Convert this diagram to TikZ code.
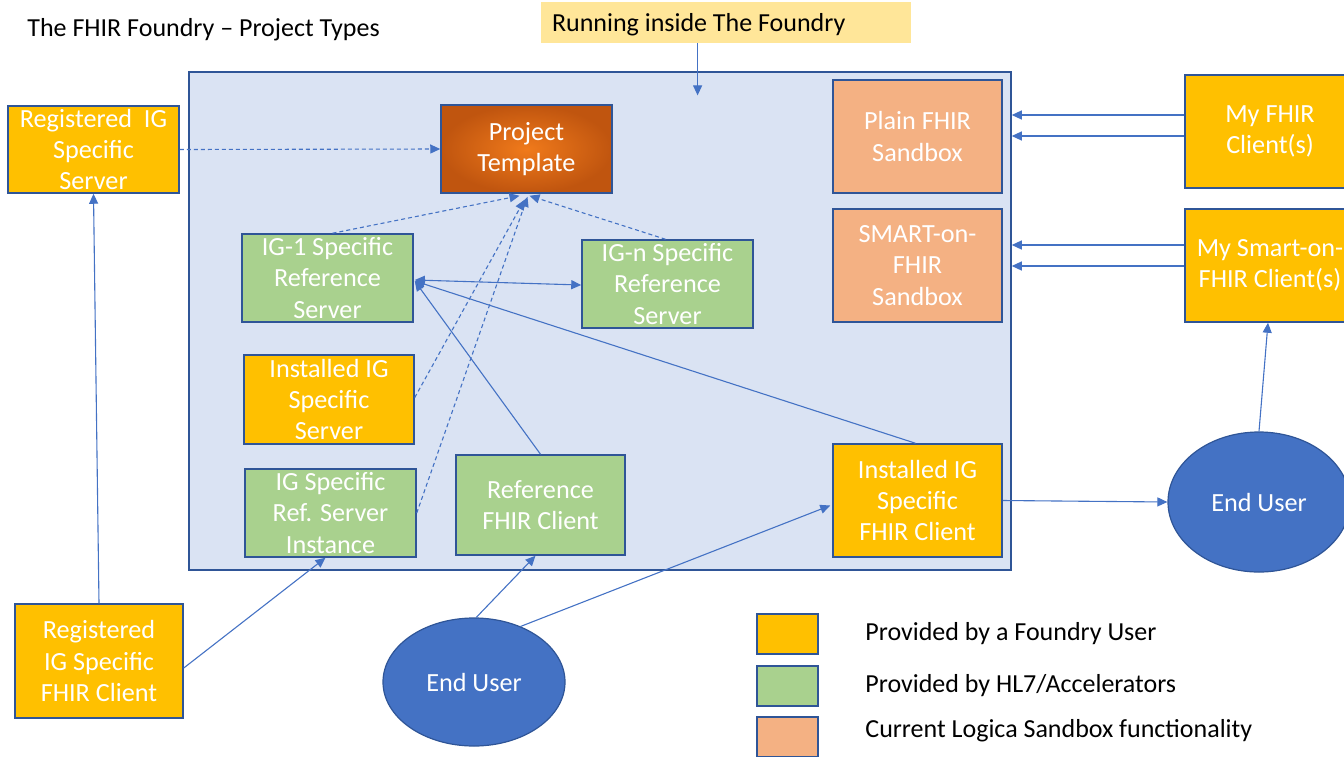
\documentclass[tikz,border=0pt]{standalone}
\usepackage{fontspec}
\setmainfont{Carlito}
\usetikzlibrary{shapes.geometric,arrows.meta,calc}

\definecolor{userorange}{HTML}{FFC000}
\definecolor{hlgreen}{HTML}{A9D18E}
\definecolor{sandsalmon}{HTML}{F4B183}
\definecolor{foundrybg}{HTML}{DAE3F3}
\definecolor{calloutbg}{HTML}{FFE699}
\definecolor{userblue}{HTML}{4472C4}
\definecolor{boxline}{HTML}{2F5597}
\definecolor{linkcol}{HTML}{4472C4}
\definecolor{tplinner}{HTML}{F07A1B}
\definecolor{tplouter}{HTML}{C0550F}

\begin{document}
\begin{tikzpicture}[x=0.5pt,y=-0.5pt,
  sz/.style n args={2}{minimum width=#1*0.5pt, minimum height=#2*0.5pt},
  box/.style={draw=boxline, line width=0.75pt, text=white, align=center,
    inner sep=0pt, font=\fontsize{13.1}{15.6}\selectfont},
  userbox/.style={box, fill=userorange},
  hlbox/.style={box, fill=hlgreen},
  sandbox/.style={box, fill=sandsalmon},
  tplbox/.style={box, inner color=tplinner, outer color=tplouter},
  enduser/.style={ellipse, draw=boxline, line width=0.6pt, fill=userblue,
    text=white, inner sep=0pt, font=\fontsize{13.1}{15.6}\selectfont},
  keybox/.style={draw=boxline, line width=0.75pt, inner sep=0pt, sz={61}{40}},
  plaintext/.style={text=black, inner sep=0pt, font=\fontsize{13}{15.5}\selectfont},
  conn/.style={draw=linkcol, line width=0.55pt, -{Triangle[length=5pt,width=4.5pt]}},
  dconn/.style={conn, dash pattern=on 2pt off 1.5pt},
  biconn/.style={conn, {Triangle[length=5pt,width=4.5pt]}-{Triangle[length=5pt,width=4.5pt]}}
]
\useasboundingbox (0,0) rectangle (1344,756);
\clip (0,0) rectangle (1344,756);

% title and callout
\node[plaintext, anchor=west] (title) at (27,30) {The FHIR Foundry -- Project Types};
\node[fill=calloutbg, sz={370}{41}, inner sep=0pt] (running) at (726,22.5) {};
\node[plaintext, anchor=west] (runningtxt) at ($(running.west)+(11,2)$) {Running inside The Foundry};

% the Foundry container
\node[draw=boxline, line width=0.75pt, fill=foundrybg, sz={822}{498}] (foundry) at (600,321) {};

% boxes inside the Foundry
\node[tplbox, sz={171}{88}] (tpl) at (526.5,149) {Project\\Template};
\node[hlbox, sz={171}{88}] (ig1) at (327.5,278) {IG-1 Specific\\Reference\\Server};
\node[hlbox, sz={171}{88}] (ign) at (667.5,284) {IG-n Specific\\Reference\\Server};
\node[userbox, sz={170}{89}] (instsrv) at (329,399.5) {Installed IG\\Specific\\Server};
\node[hlbox, sz={171}{88}] (refinst) at (330.5,513) {IG Specific\\Ref. Server\\Instance};
\node[hlbox, sz={169}{100}] (refcli) at (540.5,505) {Reference\\FHIR Client};
\node[userbox, sz={169}{113}] (instcli) at (917.5,500.5) {Installed IG\\Specific\\FHIR Client};
\node[sandbox, sz={169}{113}] (plain) at (917.5,136.5) {Plain FHIR\\Sandbox};
\node[sandbox, sz={169}{113}] (smart) at (917.5,265.5) {SMART-on-\\FHIR\\Sandbox};

% boxes outside the Foundry
\node[userbox, sz={171}{87}] (regsrv) at (93.5,149.5) {Registered\ \ IG\\Specific\\Server};
\node[userbox, sz={168}{114}] (regcli) at (99,661) {Registered\\IG Specific\\FHIR Client};
\node[userbox, sz={170}{113}] (myfhir) at (1270,131.5) {My FHIR\\Client(s)};
\node[userbox, sz={170}{113}] (mysmart) at (1270,265.5) {My Smart-on-\\FHIR Client(s)};
\node[enduser, sz={182}{128}] (eu1) at (474,682) {End User};
\node[enduser, sz={182}{140}] (eu2) at (1259,502) {End User};

% legend
\node[keybox, fill=userorange] (k1) at (787.5,634) {};
\node[keybox, fill=hlgreen] (k2) at (787.5,686) {};
\node[keybox, fill=sandsalmon] (k3) at (787.5,737) {};
\node[plaintext, anchor=west] (k1t) at (865,634) {Provided by a Foundry User};
\node[plaintext, anchor=west] (k2t) at (865,686) {Provided by HL7/Accelerators};
\node[plaintext, anchor=west] (k3t) at (865,731) {Current Logica Sandbox functionality};

% callout pointer
\coordinate (runtip) at ($(running.south west)+(157,52)$);
\draw[conn] ($(running.south west)+(157,0)$) -- (runtip);

% template derivations (dashed)
\draw[dconn] (regsrv.east) -- (tpl.west);
\draw[dconn] ($(ig1.north)+(5,0)$) -- ($(tpl.south)+(-7,2)$);
\draw[dconn] ($(ign.north)+(-2,0)$) -- ($(tpl.south)+(3,2)$);
\draw[dconn] ($(instsrv.east)+(0,-2)$) -- ($(tpl.south)+(-2,6)$);
\draw[dconn] ($(refinst.east)+(0,0)$) -- ($(tpl.south)+(1,3)$);

% reference server links
\draw[biconn] ($(ig1.east)+(1,2)$) -- ($(ign.west)+(0,1)$);
\draw[conn] (refcli.north) -- ($(ig1.east)+(1,3)$);
\draw[conn] ($(instcli.north)+(-2,0)$) -- ($(ig1.east)+(1,3)$);

% client links
\draw[conn] (regcli.north) -- (regsrv.south);
\draw[conn] ($(regcli.east)+(0,7)$) -- ($(refinst.south)+(-5,0)$);
\draw[conn] (eu1.88) -- ($(refcli.south)+(-5,0)$);
\draw[conn] (eu1.50) -- ($(instcli.west)+(-2,5)$);
\draw[conn] (instcli.east) -- (eu2.west);
\draw[conn] (eu2.north) -- ($(mysmart.south)+(-2,0)$);

% external clients to the sandboxes
\coordinate (mf1) at ($(myfhir.west)+(0,-16.5)$);
\coordinate (mf2) at ($(myfhir.west)+(0,4.5)$);
\coordinate (ms1) at ($(mysmart.west)+(0,-20.5)$);
\coordinate (ms2) at ($(mysmart.west)+(0,0.5)$);
\draw[conn] (mf1) -- (mf1 -| foundry.east);
\draw[conn] (mf2) -- (mf2 -| foundry.east);
\draw[conn] (ms1) -- (ms1 -| foundry.east);
\draw[conn] (ms2) -- (ms2 -| foundry.east);
\end{tikzpicture}
\end{document}
